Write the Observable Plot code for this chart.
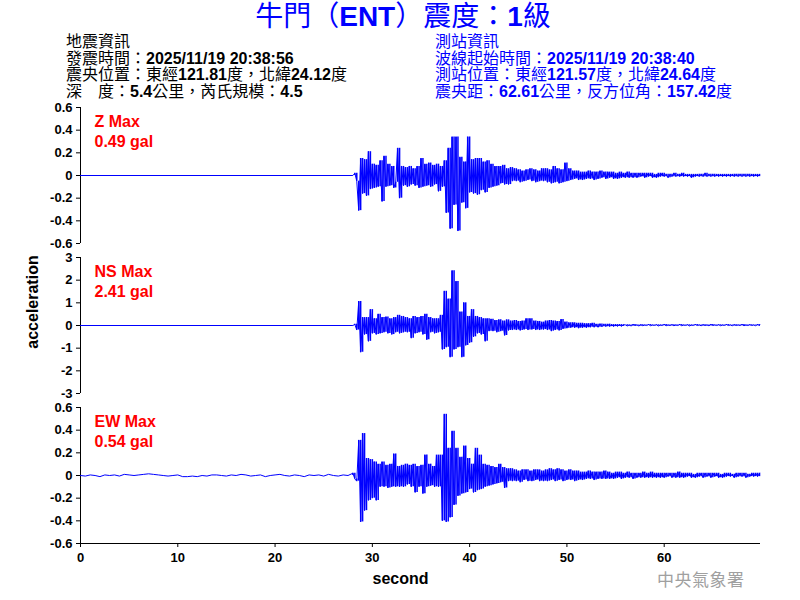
<!DOCTYPE html>
<html><head><meta charset="utf-8">
<script src="https://cdn.jsdelivr.net/npm/d3@7"></script>
<script src="https://cdn.jsdelivr.net/npm/@observablehq/plot@0.6"></script>
<style>
body{margin:0;background:#fff;}
#root{position:relative;width:800px;height:600px;overflow:hidden;background:#fff;font-family:"Liberation Sans",Arial,"Noto Sans CJK TC",sans-serif;}
.abs{position:absolute;white-space:nowrap;}
b{font-weight:bold;}
.plot{position:absolute;left:0;}
</style></head>
<body><div id="root"></div>
<script>
// ---------- data ----------
const stationTitle = "牛門（ENT）震度：1級";
const quakeInfo = ["地震資訊", "發震時間：2025/11/19 20:38:56", "震央位置：東經121.81度，北緯24.12度", "深　度：5.4公里，芮氏規模：4.5"];
const stationInfo = ["測站資訊", "波線起始時間：2025/11/19 20:38:40", "測站位置：東經121.57度，北緯24.64度", "震央距：62.61公里，反方位角：157.42度"];
const agency = "中央氣象署";
const xLabel = "second";
const yLabel = "acceleration";
const comps = ["Z", "NS", "EW"];
const maxGal = ["0.49", "2.41", "0.54"];
const yLimits = [0.6, 3, 0.6];
const yTicksZ = [0.6, 0.4, 0.2, 0, -0.2, -0.4, -0.6];
const yTicksNS = [3, 2, 1, 0, -1, -2, -3];
const yTicksEW = [0.6, 0.4, 0.2, 0, -0.2, -0.4, -0.6];
const xTicks = [0, 10, 20, 30, 40, 50, 60];
const xMax = 69.9;
// samples: pre-event (step 0.5 s from 0 s) and event (step 0.2 s from 28.0 s)
const preStep = 0.5, evStart = 28.0, evStep = 0.2;
const zPre = [0, 0];
const nsPre = [0, 0];
const ewPre = [0,-0.005,0.005,0,-0.01,0.005,0,0.005,-0.005,0.01,0.005,0,0.005,0.01,0.015,0.01,0.005,0,-0.005,0,0.005,-0.01,-0.01,-0.005,-0.01,0,-0.005,0.005,0.005,0,-0.005,0.005,0,0.01,0.005,-0.005,0,0.005,-0.01,0,0.005,0.01,0,-0.005,0.005,0,-0.01,0.005,0,0.005,-0.005,0.01,0,-0.005,0.005,0];
const zEv = [
0,0.02,-0.05,-0.31,0.15,-0.16,0.14,-0.18,0.21,-0.12,
0.1,-0.11,0.09,-0.1,0.13,-0.23,0.17,-0.1,0.1,-0.09,
0.08,-0.11,-0.06,0.24,-0.2,0.08,-0.09,0.07,-0.1,0.08,
-0.08,0.06,-0.09,0.08,-0.11,0.15,-0.1,0.1,-0.09,0.11,
-0.1,0.09,-0.08,0.1,-0.14,0.08,-0.1,0.13,-0.33,0.24,
-0.47,0.34,-0.26,0.34,-0.49,0.16,-0.24,0.12,-0.29,0.34,
-0.15,0.14,-0.16,0.15,-0.17,0.15,-0.13,0.12,-0.15,0.13,
-0.11,0.1,-0.1,0.08,-0.09,0.08,-0.07,0.09,-0.08,0.06,
-0.08,0.07,-0.05,0.06,-0.05,0.05,-0.06,0.04,-0.05,0.05,
-0.04,0.06,-0.05,0.05,-0.06,0.04,-0.05,0.06,-0.05,0.06,
-0.06,0.05,-0.07,0.08,-0.06,0.06,-0.07,0.05,-0.06,0.11,
-0.05,0.06,-0.04,0.04,-0.03,0.04,-0.04,0.03,-0.04,0.03,
-0.03,0.04,-0.03,0.03,-0.04,0.03,-0.03,0.04,-0.02,0.03,
-0.03,0.03,-0.02,0.03,-0.03,0.02,-0.03,0.03,-0.02,0.02,
-0.02,0.03,-0.02,0.02,-0.02,0.02,-0.02,0.02,-0.01,0.02,
-0.02,0.02,-0.01,0.02,-0.02,0.01,-0.02,0.02,-0.01,0.02,
-0.01,0.01,-0.02,0.01,-0.01,0.02,-0.01,0.01,-0.01,0.02,
-0.01,0.01,-0.01,0.01,-0.02,0.01,-0.01,0.01,-0.01,0.01,
-0.01,0.02,-0.01,0.01,-0.01,0.01,-0.01,0.01,-0.01,0.01,
-0.01,0.01,-0.01,0.01,-0.01,0.01,-0.01,0.01,-0.01,0.01,
-0.01,0.01,-0.01,0.01,-0.01,0.01,-0.01,0.01,-0.01,0.01];
const nsEv = [
0,0.05,-0.2,1.06,-1.18,0.35,-0.4,0.35,-0.7,0.7,
-0.35,0.3,-0.4,0.5,-0.35,0.35,-0.3,0.38,-0.35,0.3,
-0.4,0.35,-0.3,0.45,-0.35,0.4,-0.3,0.35,-0.3,0.3,
-0.56,0.4,-0.35,0.35,-0.3,0.4,-0.4,0.5,-0.63,0.35,
-0.3,0.3,-0.35,0.3,-0.3,0.45,-1.06,1.51,-0.96,1.17,
-1.4,2.41,-1.06,1.94,-0.96,0.6,-1.4,1.0,-0.88,0.4,
-0.76,0.7,-0.5,0.4,-0.35,0.35,-0.4,0.3,-0.7,0.3,
-0.25,0.28,-0.25,0.22,-0.3,0.25,-0.25,0.2,-0.44,0.25,
-0.22,0.2,-0.2,0.22,-0.2,0.18,-0.22,0.2,-0.18,0.3,
-0.2,0.3,-0.18,0.2,-0.2,0.18,-0.2,0.15,-0.18,0.2,
-0.2,0.22,-0.25,0.2,-0.2,0.18,-0.22,0.26,-0.15,0.15,
-0.12,0.12,-0.1,0.12,-0.1,0.1,-0.12,0.1,-0.1,0.08,
-0.1,0.08,-0.08,0.1,-0.08,0.06,-0.08,0.07,-0.06,0.05,
-0.05,0.06,-0.05,0.04,-0.05,0.04,-0.04,0.04,-0.04,0.03,
0.03,-0.02,0.02,-0.02,0.04,0,0.02,-0.02,0.03,-0.01,
0.02,0,0.04,-0.01,0.02,0,0.03,-0.02,0.02,0,
0.04,-0.01,0.02,0,0.03,-0.01,0.02,0,0.04,-0.01,
0.02,0,0.03,-0.02,0.02,0,0.04,0,0.02,-0.01,
0.03,0,0.02,-0.01,0.04,0,0.02,0,0.03,-0.01,
0.02,0,0.04,0,0.02,-0.01,0.03,0,0.02,0,
0.04,-0.01,0.02,0,0.03,0,0.02,-0.01,0.04,0];
const ewEv = [
0.02,-0.03,-0.05,0.31,-0.41,0.37,-0.31,0.15,-0.22,0.14,
-0.2,0.12,-0.22,0.1,-0.1,0.12,-0.1,0.09,-0.11,0.1,
-0.1,0.19,-0.1,0.08,-0.1,0.09,-0.1,0.1,-0.08,0.09,
-0.1,0.1,-0.15,0.08,-0.1,0.09,-0.16,0.18,-0.1,0.1,
-0.09,0.08,-0.1,0.18,-0.1,0.18,-0.4,0.54,-0.41,0.24,
-0.37,0.39,-0.26,0.24,-0.18,0.16,-0.16,0.26,-0.15,0.15,
-0.12,0.1,-0.15,0.24,-0.13,0.18,-0.12,0.1,-0.1,0.09,
-0.09,0.08,-0.08,0.07,-0.07,0.1,-0.06,0.07,-0.11,0.06,
-0.05,0.06,-0.05,0.05,-0.05,0.04,-0.06,0.05,-0.04,0.05,
-0.05,0.04,-0.05,0.05,-0.04,0.05,-0.05,0.04,-0.05,0.05,
-0.05,0.06,-0.04,0.05,-0.05,0.06,-0.04,0.05,-0.05,0.04,
-0.04,0.05,-0.04,0.04,-0.05,0.04,-0.04,0.03,-0.04,0.03,
-0.03,0.04,-0.03,0.03,-0.04,0.03,-0.03,0.03,-0.03,0.04,
-0.03,0.03,-0.03,0.02,-0.03,0.03,-0.02,0.03,-0.03,0.02,
-0.02,0.03,-0.02,0.02,-0.03,0.02,-0.02,0.02,-0.02,0.03,
-0.02,0.02,-0.02,0.03,-0.02,0.02,-0.02,0.02,-0.02,0.02,
-0.02,0.02,-0.01,0.02,-0.02,0.02,-0.02,0.03,-0.02,0.02,
-0.02,0.02,-0.01,0.02,-0.02,0.01,-0.02,0.02,-0.01,0.02,
-0.02,0.02,-0.01,0.02,-0.02,0.02,-0.01,0.02,-0.02,0.01,
-0.02,0.02,-0.01,0.02,-0.01,0.01,-0.02,0.02,-0.01,0.02,
-0.01,0.02,-0.02,0.01,-0.01,0.02,-0.01,0.02,-0.01,0.02];

// ---------- build ----------
const preSets = [zPre, nsPre, ewPre];
const evSets = [zEv, nsEv, ewEv];
const yTickSets = [yTicksZ, yTicksNS, yTicksEW];

function buildTrace(k) {
  const pre = preSets[k];
  const stepPre = k === 2 ? preStep : evStart; // Z/NS: flat line 0 → onset
  const out = pre.map((v, i) => ({t: i * stepPre, v}));
  evSets[k].forEach((v, i) => out.push({t: evStart + i * evStep, v}));
  return out.filter(d => d.t <= xMax);
}
// one vertical stroke per sample, spanning from the previous sample to this one
function buildStrokes(k) {
  const ev = evSets[k];
  return ev.map((v, i) => ({t: evStart + i * evStep, lo: Math.min(v, i ? ev[i - 1] : 0), hi: Math.max(v, i ? ev[i - 1] : 0)}))
           .filter(d => d.t <= xMax);
}

const root = document.getElementById("root");
function addDiv(html, css) {
  const d = document.createElement("div");
  d.className = "abs";
  d.innerHTML = html;
  Object.assign(d.style, css);
  root.appendChild(d);
  return d;
}
const fmt = s => s.replace(/([\x20-\x7e]+)/g, "<b>$1</b>");

// title
addDiv(fmt(stationTitle), {left: "0px", width: "806px", top: "3px", textAlign: "center", fontSize: "28px", lineHeight: "28px", color: "#0000ff"});
// info blocks, one line per div
[quakeInfo, stationInfo].forEach((lines, c) => {
  lines.forEach((s, i) => addDiv(fmt(s), {left: (c ? 435 : 66) + "px", top: (34 + i * 16.5) + "px", fontSize: "16px", lineHeight: "16px", color: c ? "#0000ff" : "#000"}));
});

const tops = [97, 247, 397];
comps.forEach((c, k) => {
  const bottom = k === 2;
  const mt = 10, mb = bottom ? 50 : 10;
  const lim = yLimits[k];
  const chart = Plot.plot({
    width: 800, height: mt + 136 + mb,
    marginTop: mt, marginBottom: mb, marginLeft: 80, marginRight: 40,
    style: {background: "transparent", fontFamily: "Liberation Sans, Arial, sans-serif", fontSize: "13px", fontWeight: "bold", color: "#000", overflow: "visible"},
    x: {domain: [0, xMax], axis: bottom ? "bottom" : null, ticks: xTicks, tickSize: 4, tickPadding: 5, tickFormat: d => String(d), label: null},
    y: {domain: [-lim, lim], ticks: yTickSets[k], tickSize: 4, tickPadding: 4, tickFormat: d => String(d), label: null},
    marks: [
      Plot.ruleX([0], {stroke: "#000"}),
      ...(bottom ? [Plot.ruleY([-lim], {stroke: "#000"})] : []),
      Plot.line(buildTrace(k), {x: "t", y: "v", stroke: "#0000ff", strokeWidth: 1}),
      Plot.ruleX(buildStrokes(k), {x: "t", y1: "lo", y2: "hi", stroke: "#0000ff", strokeWidth: 1.5}),
      Plot.text([`${c} Max\n${maxGal[k]} gal`], {text: d => d, frameAnchor: "top-left", dx: 14, dy: 5, lineAnchor: "top", textAnchor: "start", lineHeight: 1.25, fill: "#ff0000", fontSize: 16, fontWeight: "bold"})
    ]
  });
  chart.classList.add("plot");
  chart.style.top = tops[k] + "px";
  root.appendChild(chart);
});

// axis titles and agency
addDiv(`<b>${xLabel}</b>`, {left: "0px", width: "801px", textAlign: "center", top: "571px", fontSize: "16px", lineHeight: "16px"});
addDiv(`<b>${yLabel}</b>`, {left: "32.5px", top: "302px", fontSize: "16px", lineHeight: "16px", transform: "translate(-50%,-50%) rotate(-90deg)"});
addDiv(agency, {left: "657px", top: "572px", fontSize: "17px", lineHeight: "17px", color: "#a0a0a0", letterSpacing: "0.5px"});
</script>
</body></html>
